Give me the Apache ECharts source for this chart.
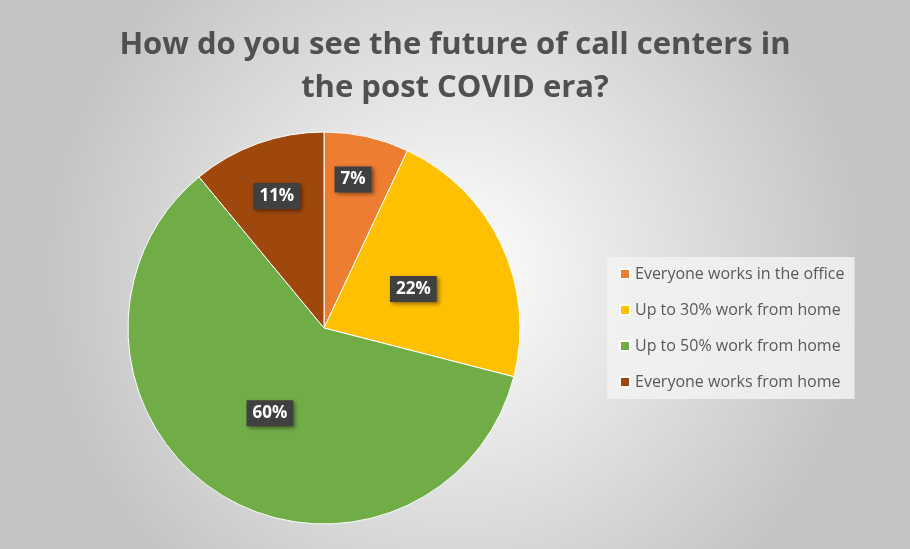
<!DOCTYPE html>
<html><head><meta charset="utf-8">
<script src="https://cdn.jsdelivr.net/npm/echarts@6/dist/echarts.min.js"></script>
<style>html,body{margin:0;padding:0;}#c{width:910px;height:549px;}</style>
</head><body><div id="c"></div>
<script>
const categories = ["Everyone works in the office","Up to 30% work from home","Up to 50% work from home","Everyone works from home"];
const values = [7, 22, 60, 11];
const colors = ["#ED7D31","#FFC000","#70AD47","#9E480E"];
const labelOffsets = [[7, -50], [-2, 4], [0, 0], [-13, -37]];

const chart = echarts.init(document.getElementById('c'));
chart.setOption({
  animation: false,
  backgroundColor: {type:'radial', x:0.5, y:0.5, r:0.75, colorStops:[{offset:0,color:'#ffffff'},{offset:1,color:'#c4c4c4'}]},
  title: {
    text: "How do you see the future of call centers in\nthe post COVID era?",
    left: 'center', top: 19,
    textStyle: {fontFamily:'Open Sans', fontWeight:'bold', fontSize:31, color:'#505050', lineHeight:43}
  },
  legend: {
    orient:'vertical', left:607, top:257, width:250,
    data: categories,
    itemWidth:10, itemHeight:10, itemGap:20,
    padding:[9,10,9,12],
    backgroundColor:'rgba(242,242,242,0.85)',
    icon:'rect',
    textStyle:{fontFamily:'Open Sans', fontSize:16, color:'#595959'}
  },
  series: [{
    type:'pie',
    center:[324,328], radius:196,
    startAngle:90, clockwise:true,
    data: categories.map((n,i)=>({name:n, value:values[i], itemStyle:{color:colors[i]}, label:{offset:labelOffsets[i]}})),
    itemStyle:{borderColor:'#ffffff', borderWidth:1},
    label:{show:true, position:'inside', formatter:'{d}%',
      fontFamily:'Open Sans', fontWeight:'bold', fontSize:17, color:'#ffffff',
      backgroundColor:'#404040', padding:[5,6,4,6],
      shadowColor:'rgba(0,0,0,0.45)', shadowBlur:4, shadowOffsetX:2, shadowOffsetY:2},
    labelLine:{show:false},
    emphasis:{disabled:true}
  }]
});
</script></body></html>
